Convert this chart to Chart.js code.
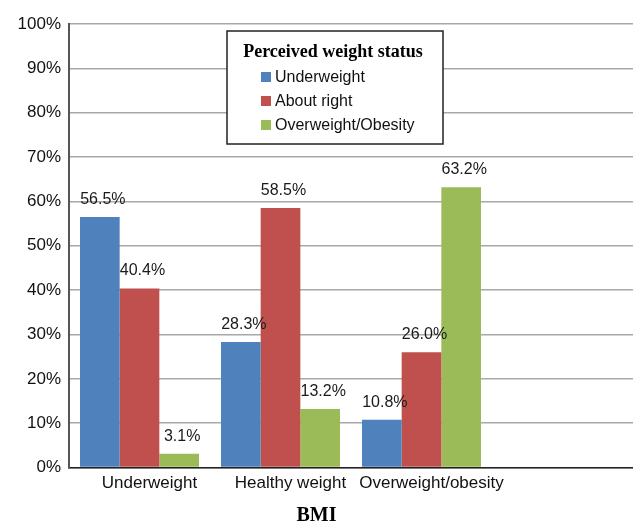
<!DOCTYPE html>
<html>
<head>
<meta charset="utf-8">
<script src="https://cdn.jsdelivr.net/npm/chart.js@4/dist/chart.umd.min.js"></script>
<style>
  html, body { margin: 0; padding: 0; background: #fff; }
  #wrap { width: 633px; height: 522px; }
</style>
</head>
<body>
<div id="wrap"><canvas id="c" width="633" height="522"></canvas></div>
<script>
// BMI categories (the fourth slot is left empty on the axis)
const categories = ['Underweight', 'Healthy weight', 'Overweight/obesity', ''];

// Share of each perceived weight status within a BMI category (%)
const perceivedUnderweight = [56.5, 28.3, 10.8, null];
const perceivedAboutRight  = [40.4, 58.5, 26.0, null];
const perceivedOverweight  = [3.1, 13.2, 63.2, null];

const seriesNames = ['Underweight', 'About right', 'Overweight/Obesity'];
const seriesColors = ['#4F81BD', '#C0504D', '#9BBB59'];

const yTicks = [0, 10, 20, 30, 40, 50, 60, 70, 80, 90, 100];

const SANS = "'Liberation Sans', Arial, Helvetica, sans-serif";
const SERIF = "'Liberation Serif', 'Times New Roman', serif";

// Percent labels printed above each bar
const valueLabels = {
  id: 'valueLabels',
  afterDatasetsDraw(chart) {
    const ctx = chart.ctx;
    ctx.save();
    ctx.font = '16px ' + SANS;
    ctx.fillStyle = '#1a1a1a';
    ctx.textAlign = 'center';
    ctx.textBaseline = 'alphabetic';
    chart.data.datasets.forEach((ds, di) => {
      const meta = chart.getDatasetMeta(di);
      meta.data.forEach((bar, i) => {
        const v = ds.data[i];
        if (v === null || v === undefined) return;
        ctx.fillText(v.toFixed(1) + '%', bar.x + 3, bar.y - 13);
      });
    });
    ctx.restore();
  }
};

// Boxed legend with a serif heading, drawn inside the plot
const boxedLegend = {
  id: 'boxedLegend',
  afterDraw(chart, args, opts) {
    const ctx = chart.ctx;
    const x = opts.x, y = opts.y, w = opts.width, h = opts.height;
    ctx.save();
    ctx.fillStyle = '#ffffff';
    ctx.fillRect(x, y, w, h);
    ctx.strokeStyle = '#222';
    ctx.lineWidth = 1.5;
    ctx.strokeRect(x, y, w, h);

    ctx.fillStyle = '#000';
    ctx.font = 'bold 18px ' + SERIF;
    ctx.textAlign = 'center';
    ctx.textBaseline = 'alphabetic';
    ctx.fillText(opts.title, x + w / 2 - 2, y + 26);

    ctx.font = '16px ' + SANS;
    ctx.textAlign = 'left';
    ctx.textBaseline = 'middle';
    chart.data.datasets.forEach((ds, i) => {
      const cy = y + 46 + i * 24;
      ctx.fillStyle = ds.backgroundColor;
      ctx.fillRect(x + 34, cy - 5, 10, 10);
      ctx.fillStyle = '#111';
      ctx.fillText(ds.label, x + 48, cy + 1);
    });
    ctx.restore();
  }
};

const datasets = [perceivedUnderweight, perceivedAboutRight, perceivedOverweight].map((d, i) => ({
  label: seriesNames[i],
  data: d,
  backgroundColor: seriesColors[i],
  borderWidth: 0,
  categoryPercentage: 0.844,
  barPercentage: 1.0
}));

new Chart(document.getElementById('c'), {
  type: 'bar',
  data: { labels: categories, datasets },
  options: {
    responsive: false,
    animation: false,
    devicePixelRatio: 1,
    layout: { padding: { top: 24, right: 0, bottom: 0, left: 0 } },
    plugins: {
      legend: { display: false },
      tooltip: { enabled: false },
      title: {
        display: true,
        position: 'bottom',
        text: 'BMI',
        color: '#000',
        font: { family: SERIF, size: 20, weight: 'bold', lineHeight: 1.2 },
        padding: { top: 4, bottom: -6 }
      },
      boxedLegend: {
        x: 227, y: 31, width: 216, height: 113,
        title: 'Perceived weight status'
      }
    },
    scales: {
      x: {
        grid: { display: false, drawTicks: false },
        border: { display: true, color: '#222', width: 1.5 },
        ticks: {
          color: '#111',
          font: { family: SANS, size: 17 },
          padding: 6,
          labelOffset: 10,
          maxRotation: 0,
          autoSkip: false
        }
      },
      y: {
        min: 0,
        max: 100,
        afterFit(scale) { scale.width = 69; },
        afterBuildTicks(scale) { scale.ticks = yTicks.map(v => ({ value: v })); },
        grid: { color: '#a8a8a8', lineWidth: 1.5, drawTicks: false },
        border: { display: true, color: '#555', width: 2 },
        ticks: {
          color: '#111',
          font: { family: SANS, size: 17 },
          padding: 8,
          callback: v => v + '%'
        }
      }
    }
  },
  plugins: [valueLabels, boxedLegend]
});
</script>
</body>
</html>
